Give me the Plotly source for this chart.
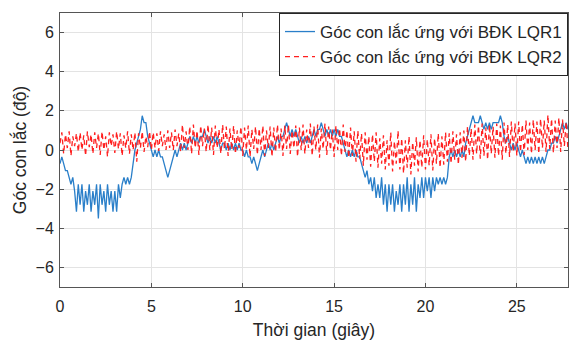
import plotly.graph_objects as go

# Góc con lắc (độ), sampled every 0.1 s
lqr1 = [
    -0.7, -0.35, -0.7, -1.05, -1.05, -1.4, -1.75, -1.4, -2.1, -3.15,
    -1.75, -2.8, -1.75, -3.15, -2.1, -2.8, -1.75, -3.15, -2.1, -2.8,
    -1.75, -3.5, -1.75, -2.8, -2.1, -3.15, -1.75, -2.8, -2.1, -3.15,
    -2.1, -3.15, -1.75, -2.45, -1.75, -1.4, -1.75, -1.4, -1.75, -1.4,
    -0.7, 0.0, 0.35, 0.7, 1.05, 1.75, 1.4, 1.4, 0.7, 0.35,
    0.0, -0.35, 0.0, -0.35, 0.0, -0.35, -0.35, -0.7, -1.05, -1.4,
    -1.05, -0.7, -0.35, 0.0, -0.35, 0.0, 0.35, 0.0, 0.35, 0.0,
    0.35, 0.7, 0.35, 0.7, 0.35, 0.7, 0.35, 0.7, 0.7, 1.05,
    0.7, 0.35, 0.7, 0.35, 0.7, 0.35, 0.7, 0.35, 0.0, 0.35,
    0.35, 0.0, 0.35, 0.0, 0.35, 0.0, 0.35, 0.0, 0.35, 0.0,
    0.0, -0.35, 0.0, -0.35, -0.35, -0.7, -0.35, -0.7, -1.05, -0.7,
    -0.35, 0.0, -0.35, 0.0, 0.35, 0.0, 0.35, 0.0, 0.35, 0.7,
    0.35, 0.7, 0.7, 1.05, 1.4, 1.05, 0.7, 1.05, 0.7, 1.05,
    0.7, 0.35, 0.7, 0.35, 0.7, 0.35, 0.7, 0.35, 0.7, 1.05,
    0.7, 1.05, 1.05, 1.4, 1.05, 0.7, 1.05, 0.7, 1.05, 0.7,
    1.05, 0.7, 1.05, 0.7, 0.7, 0.35, 0.0, -0.35, 0.0, -0.35,
    0.0, -0.35, 0.0, -0.35, -0.35, -0.7, -1.05, -1.4, -1.05, -1.75,
    -1.4, -2.1, -1.4, -2.45, -1.75, -2.45, -1.4, -2.8, -1.75, -3.15,
    -1.75, -2.8, -1.75, -3.15, -2.1, -2.8, -1.75, -3.15, -1.75, -2.8,
    -1.4, -3.15, -1.75, -2.8, -1.4, -3.15, -1.75, -2.45, -1.4, -2.45,
    -1.4, -2.1, -1.4, -2.45, -1.4, -2.1, -1.4, -1.75, -1.4, -1.75,
    -1.4, -1.75, -1.4, -0.35, 0.0, -0.35, 0.0, -0.35, 0.0, -0.35,
    0.0, -0.35, 0.35, 0.7, 1.05, 1.4, 1.75, 1.4, 1.4, 1.4,
    1.75, 1.4, 1.05, 1.4, 1.05, 1.4, 1.05, 1.4, 1.4, 1.4,
    1.4, 1.75, 1.4, 0.7, 0.35, 0.7, 0.35, 0.0, 0.35, 0.0,
    0.35, 0.0, -0.35, 0.0, -0.35, -0.7, -0.35, -0.7, -0.35, -0.7,
    -0.35, -0.7, -0.35, -0.7, -0.35, -0.7, -0.35, 0.0, 0.0, 0.35,
    0.35, 0.7, 0.35, 0.7, 1.05, 1.4, 1.05, 1.4, 1.05,
]

lqr2 = [
    0.35, 0.9, -0.2, 0.8, 0.1, 0.95, -0.3, 0.7, 0.2, 0.85,
    -0.1, 0.9, 0.0, 0.75, -0.3, 0.95, 0.15, 0.8, -0.2, 0.9,
    0.1, 0.85, -0.25, 0.95, 0.0, 0.7, -0.35, 0.9, 0.2, 0.8,
    -0.15, 0.95, 0.05, 0.85, -0.3, 0.75, 0.1, 0.95, -0.2, 0.8,
    0.0, 0.9, -0.6, 0.85, 0.1, 0.95, -0.1, 0.7, 0.15, 0.95,
    0.0, 0.9, 0.1, 0.85, -0.05, 0.95, 0.2, 0.8, 0.0, 1.0,
    0.1, 0.9, 0.0, 1.05, 0.2, 0.85, -0.1, 1.3, 0.1, 0.95,
    0.0, 1.2, -0.2, 1.3, 0.1, 1.0, -0.25, 1.25, 0.2, 1.1,
    -0.1, 1.3, 0.0, 1.15, -0.25, 1.25, 0.1, 1.05, -0.2, 1.3,
    0.05, 1.2, -0.3, 1.1, 0.0, 1.25, -0.2, 1.0, 0.1, 1.2,
    -0.3, 1.15, 0.0, 1.25, -0.35, 1.05, 0.05, 1.2, -0.25, 1.1,
    0.0, 1.25, -0.3, 1.0, 0.1, 1.2, -0.35, 1.15, -0.1, 1.3,
    0.0, 1.1, -0.3, 1.25, 0.05, 1.3, -0.2, 1.0, 0.1, 1.25,
    -0.35, 1.15, 0.0, 1.3, -0.2, 1.05, 0.1, 1.35, -0.3, 1.2,
    0.0, 1.3, -0.4, 1.1, 0.05, 1.35, -0.25, 1.2, 0.0, 1.05,
    -0.35, 1.25, 0.0, 1.1, -0.3, 1.3, -0.1, 1.0, -0.4, 1.15,
    -0.3, 0.95, -0.6, 1.0, -0.45, 0.85, -0.8, 0.9, -0.5, 0.7,
    -0.85, 0.8, -0.6, 0.9, -0.9, 0.6, -0.7, 0.75, -1.0, 0.5,
    -0.8, 0.9, -1.1, 0.45, -0.7, 1.0, -1.0, 0.6, -1.2, 0.5,
    -0.9, 0.7, -1.25, 0.4, -0.8, 0.65, -1.1, 0.5, -0.9, 0.75,
    -1.0, 0.55, -0.8, 0.8, -1.05, 0.6, -0.7, 0.85, -0.9, 0.7,
    -0.75, 0.9, -0.6, 0.85, -0.7, 0.95, -0.5, 0.8, -0.75, 0.9,
    -0.4, 1.0, -0.6, 1.2, -0.3, 1.1, -0.5, 1.3, -0.2, 1.25,
    -0.45, 1.35, -0.3, 1.15, -0.5, 1.3, -0.2, 1.2, -0.4, 1.35,
    -0.3, 1.25, -0.5, 1.4, -0.2, 1.3, -0.35, 1.45, -0.1, 1.35,
    -0.3, 1.45, -0.1, 1.3, -0.25, 1.5, 0.0, 1.4, -0.2, 1.55,
    0.0, 1.45, -0.2, 1.6, 0.1, 1.5, -0.1, 1.8, 0.05, 1.6,
    -0.15, 1.5, 0.1, 1.65, -0.1, 1.55, 0.2, 1.45, 0.0,
]

dt = 0.1
time = [round(i * dt, 1) for i in range(len(lqr1))]

name1 = "Góc con lắc ứng với BĐK LQR1"
name2 = "Góc con lắc ứng với BĐK LQR2"
x_ticks = [0, 5, 10, 15, 20, 25]
y_ticks = [-6, -4, -2, 0, 2, 4, 6]

FONT = "Liberation Sans, Arial, sans-serif"
AX = "#262626"

fig = go.Figure()
fig.add_trace(go.Scatter(x=time, y=lqr1, mode="lines", name=name1,
                         line=dict(color="#2a7fc9", width=1.3)))
fig.add_trace(go.Scatter(x=time, y=lqr2, mode="lines", name=name2,
                         line=dict(color="#ff2020", width=1.3, dash="5px,4px")))

axis_common = dict(showline=True, linecolor="#555555", linewidth=1, mirror="ticks",
                   ticks="inside", ticklen=4, tickcolor="#555555",
                   showgrid=True, gridcolor="#e3e3e3", gridwidth=1,
                   zeroline=False, automargin=False,
                   tickfont=dict(family=FONT, size=16, color=AX))

fig.update_xaxes(range=[0, 27.8], tickvals=x_ticks, ticklabelstandoff=5,
                 title=dict(text="Thời gian (giây)", font=dict(family=FONT, size=17.5, color=AX),
                            standoff=9),
                 **axis_common)
fig.update_yaxes(range=[-7, 7], tickvals=y_ticks, ticklabelstandoff=2,
                 title=dict(text="Góc con lắc (độ)", font=dict(family=FONT, size=17.5, color=AX),
                            standoff=4),
                 **axis_common)

fig.update_layout(
    width=570, height=340,
    margin=dict(l=60, r=2, t=13, b=53, autoexpand=False),
    paper_bgcolor="white", plot_bgcolor="white",
    font=dict(family=FONT, color=AX),
    legend=dict(x=1, y=1, xanchor="right", yanchor="top",
                bgcolor="white", bordercolor=AX, borderwidth=1,
                font=dict(family=FONT, size=17, color=AX),
                tracegroupgap=0, itemwidth=30),
    showlegend=True,
)

fig.write_html("out.html", config={"displayModeBar": False},
               post_script="document.body.style.margin='0';document.body.style.overflow='hidden';")
